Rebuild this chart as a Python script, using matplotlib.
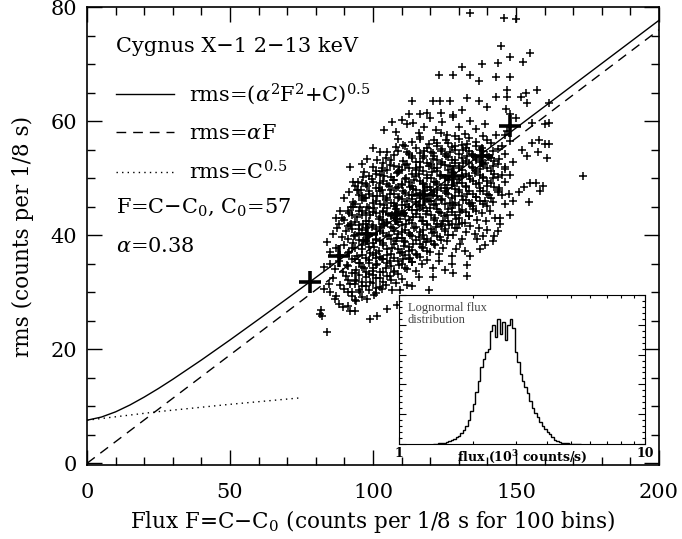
import numpy as np
import matplotlib
matplotlib.use("Agg")
import matplotlib.pyplot as plt
from matplotlib.ticker import MultipleLocator, FixedLocator, NullFormatter

plt.rcParams['font.family'] = ['DejaVu Serif']
plt.rcParams['mathtext.fontset'] = 'dejavuserif'

# model curves (alpha=0.38, C0=57)
model_flux = [0, 5, 10, 15, 20, 25, 30, 40, 50, 60, 70, 80, 90, 100, 120, 140, 160, 180, 200]
model_rms = [7.55, 8.10, 9.02, 10.22, 11.61, 13.12, 14.73, 18.11, 21.63, 25.24, 28.89,
             32.58, 36.29, 40.01, 47.50, 55.02, 62.56, 70.11, 77.67]
linear_flux = [0, 200]
linear_rms = [0, 76]
poisson_flux = [0, 25, 50, 75]
poisson_rms = [7.55, 9.06, 10.34, 11.49]

# binned averages (big crosses)
bin_flux = [78, 88, 98, 108, 118, 128, 138, 148]
bin_rms = [31.8, 36.3, 40.2, 43.7, 47.0, 50.3, 53.8, 59.1]

# individual 1/8 s segments (flux, rms), outer parts of the cloud
cloud = [
    (84.0, 23.0), (82.0, 25.9), (81.8, 26.9), (81.5, 26.2), (89.5, 27.4), (92.0, 26.7), (93.7, 26.7),
    (101.4, 25.9), (105.0, 27.0), (99.0, 25.3), (108.5, 27.8), (86.7, 28.8), (88.0, 28.0), (98.0, 28.8),
    (94.0, 28.4),
    (83.0, 30.6), (85.0, 30.0), (87.0, 29.3), (90.0, 30.6), (92.7, 30.0), (95.5, 30.0), (100.5, 29.5),
    (103.0, 30.6), (106.6, 30.4), (109.4, 30.4), (84.5, 31.5), (86.0, 32.4), (88.5, 31.2), (90.5, 32.8),
    (92.0, 31.5), (94.0, 32.2), (96.0, 31.0), (97.5, 32.6), (99.0, 31.8), (101.0, 30.8), (102.5, 32.4),
    (104.5, 31.3), (106.0, 32.9), (108.0, 31.6), (110.0, 32.3), (112.0, 31.2), (113.6, 31.0), (116.0, 32.6),
    (119.6, 30.4), (121.0, 32.7), (93.7, 32.0), (100.0, 33.0),
    (83.0, 34.5), (85.0, 35.0), (86.7, 34.0), (88.0, 35.5), (89.5, 33.6), (91.0, 34.8), (92.5, 35.8),
    (94.0, 33.9), (95.5, 35.2), (97.0, 34.3), (98.5, 35.7), (100.0, 33.8), (101.5, 34.9), (103.0, 35.9),
    (104.5, 34.2), (106.0, 35.4), (107.5, 33.5), (109.0, 34.7), (110.5, 35.8), (112.0, 34.1), (113.5, 35.3),
    (115.0, 33.7), (117.0, 34.9), (119.0, 35.6), (121.0, 34.3), (123.0, 35.5), (125.0, 33.9), (127.6, 35.0),
    (128.0, 33.4), (133.0, 32.8), (133.0, 34.8),
    (84.0, 38.8), (85.0, 37.0), (87.0, 37.8), (88.5, 36.6), (90.0, 38.2), (91.5, 37.1), (93.0, 38.7),
    (94.5, 36.4), (96.0, 37.6), (97.5, 38.9), (99.0, 36.8), (100.5, 38.0), (102.0, 37.2), (103.5, 38.6),
    (105.0, 36.5), (106.5, 37.7), (108.0, 38.9), (109.5, 36.9), (111.0, 38.1), (112.5, 37.3), (114.0, 38.5),
    (115.5, 36.6), (117.0, 37.9), (118.5, 38.8), (120.0, 37.0), (121.5, 38.3), (123.0, 36.7), (124.5, 37.8),
    (126.0, 38.9), (127.5, 36.4), (129.0, 37.6), (130.5, 38.5), (132.0, 37.2), (134.0, 36.3), (136.4, 39.3),
    (137.4, 37.6), (139.0, 38.2), (96.5, 39.0), (101.0, 36.0), (113.0, 36.0),
    (86.0, 40.2), (87.5, 41.3), (89.0, 39.6), (90.5, 40.8), (92.0, 41.7), (93.5, 39.9), (95.0, 41.0),
    (96.5, 42.0), (98.0, 40.4), (99.5, 41.5), (101.0, 39.4), (102.5, 40.7), (104.0, 41.8), (105.5, 40.0),
    (107.0, 41.2), (108.5, 39.5), (110.0, 40.6), (111.5, 41.9), (113.0, 40.1), (114.5, 41.3), (116.0, 39.7),
    (117.5, 40.9), (119.0, 42.0), (120.5, 40.3), (122.0, 41.4), (123.5, 39.6), (125.0, 40.8), (126.5, 41.8),
    (128.0, 40.0), (129.5, 41.2), (131.0, 39.4), (132.5, 40.5), (134.0, 41.6), (135.5, 40.2), (137.0, 41.3),
    (138.5, 39.8), (140.0, 40.9), (142.0, 39.0), (142.3, 39.8), (143.7, 40.7), (144.4, 42.0), (92.3, 42.0),
    (97.0, 39.2), (103.0, 42.0), (111.0, 39.0), (118.0, 39.3), (124.0, 42.0), (130.0, 42.0), (88.0, 42.0),
    (87.0, 43.0), (88.5, 44.3), (90.0, 42.6), (91.5, 43.8), (93.0, 44.9), (94.5, 43.1), (96.0, 44.2),
    (97.5, 42.4), (99.0, 43.6), (100.5, 44.7), (102.0, 42.9), (103.5, 44.0), (105.0, 42.3), (106.5, 43.5),
    (108.0, 44.6), (109.5, 42.8), (111.0, 43.9), (112.5, 45.0), (114.0, 43.2), (115.5, 44.4), (117.0, 42.5),
    (118.5, 43.7), (120.0, 44.8), (121.5, 43.0), (123.0, 44.1), (124.5, 42.4), (126.0, 43.6), (127.5, 44.7),
    (129.0, 42.9), (130.5, 44.0), (132.0, 42.2), (133.5, 43.4), (135.0, 44.5), (136.5, 42.7), (138.0, 43.9),
    (139.5, 42.5), (141.0, 44.2), (142.5, 43.0), (144.4, 43.0), (146.0, 45.4), (148.0, 43.5), (92.3, 45.0),
    (95.5, 45.0), (89.0, 43.0), (98.0, 45.0), (104.0, 45.2), (110.0, 45.3), (116.0, 45.1), (122.0, 45.4),
    (128.0, 45.2), (134.0, 45.4), (140.0, 45.1),
    (90.0, 46.5), (91.5, 47.6), (93.0, 45.8), (94.8, 48.0), (96.0, 46.9), (97.0, 46.6), (98.5, 47.8),
    (100.0, 45.7), (101.5, 46.8), (103.0, 47.9), (104.5, 46.1), (106.0, 47.2), (107.5, 45.6), (109.0, 46.7),
    (110.5, 47.8), (112.0, 46.0), (113.5, 47.1), (115.0, 45.5), (116.5, 46.6), (118.0, 47.7), (119.5, 45.9),
    (121.0, 47.0), (122.5, 48.0), (124.0, 46.3), (125.5, 47.4), (127.0, 45.7), (128.5, 46.8), (130.0, 47.9),
    (131.5, 46.1), (133.0, 47.2), (134.5, 45.6), (136.0, 46.7), (137.5, 47.8), (139.0, 46.0), (140.5, 47.1),
    (142.0, 45.8), (144.0, 48.0), (145.0, 47.0), (147.6, 47.3), (149.0, 46.0), (151.0, 47.5), (154.6, 45.8),
    (158.4, 47.7), (94.4, 47.9), (95.8, 48.0), (102.0, 48.2), (108.0, 48.3), (114.0, 48.1), (120.0, 48.4),
    (126.0, 48.2),
    (93.0, 49.3), (94.8, 49.4), (96.5, 50.2), (98.0, 48.7), (99.5, 49.8), (101.0, 50.8), (102.5, 49.1),
    (104.0, 50.3), (105.5, 48.6), (107.0, 49.7), (108.5, 50.9), (110.0, 49.0), (111.5, 50.1), (113.0, 48.5),
    (114.5, 49.6), (116.0, 50.7), (117.5, 48.9), (119.0, 50.0), (120.5, 51.0), (122.0, 49.3), (123.5, 50.4),
    (125.0, 48.8), (126.5, 49.9), (128.0, 50.9), (129.5, 49.2), (131.0, 50.4), (132.5, 48.7), (134.0, 49.8),
    (135.5, 50.9), (137.0, 49.1), (138.5, 50.2), (140.0, 48.6), (142.0, 50.0), (145.0, 50.5), (148.0, 50.5),
    (144.0, 48.3), (152.8, 48.4), (155.0, 49.1), (157.0, 49.1), (159.4, 48.6), (173.4, 50.4), (97.0, 51.0),
    (103.0, 51.2), (109.0, 51.3), (115.0, 51.5),
    (96.0, 52.5), (98.0, 53.4), (100.0, 52.0), (101.5, 53.2), (103.0, 51.8), (104.5, 53.5), (106.0, 52.3),
    (107.5, 54.0), (109.0, 51.9), (110.5, 53.0), (112.0, 52.4), (113.5, 53.8), (115.0, 51.7), (116.5, 52.9),
    (118.0, 53.9), (119.5, 52.2), (121.0, 53.3), (122.5, 51.8), (124.0, 52.8), (125.5, 53.9), (127.0, 52.1),
    (128.5, 53.2), (130.0, 51.7), (131.5, 52.7), (133.0, 53.8), (134.5, 52.0), (136.0, 53.1), (137.5, 51.6),
    (139.0, 52.6), (140.5, 53.7), (142.0, 52.2), (144.0, 53.3), (146.0, 51.9), (149.0, 52.8), (153.8, 53.8),
    (157.7, 54.5), (161.0, 53.6), (92.0, 52.0),
    (100.0, 55.2), (102.4, 54.5), (105.0, 54.5), (108.0, 55.5), (108.7, 56.8), (110.5, 55.8), (112.0, 54.6),
    (113.5, 56.4), (115.0, 55.3), (116.5, 56.9), (118.0, 54.8), (119.5, 55.9), (121.0, 54.4), (122.5, 56.2),
    (124.0, 55.1), (125.5, 56.7), (127.0, 54.6), (128.5, 55.7), (130.0, 56.8), (131.5, 54.9), (133.0, 55.9),
    (134.5, 54.3), (136.0, 56.3), (138.0, 55.2), (140.0, 56.6), (142.0, 54.8), (145.0, 55.6), (148.0, 56.5),
    (155.6, 56.2), (158.0, 56.6), (160.0, 56.0), (152.0, 55.0), (161.5, 55.9),
    (104.0, 58.5), (106.5, 59.8), (108.0, 58.0), (110.0, 60.2), (112.0, 59.4), (114.0, 59.6), (116.0, 57.9),
    (118.0, 59.0), (120.0, 60.5), (122.0, 58.4), (124.0, 59.8), (126.0, 57.6), (128.0, 60.8), (130.0, 58.9),
    (132.0, 57.8), (134.0, 60.0), (136.0, 58.6), (139.0, 59.5), (143.0, 57.5), (147.0, 58.2), (150.0, 60.5),
    (155.6, 59.6), (160.0, 59.4), (161.5, 59.6), (112.6, 61.3), (116.4, 61.3),
    (119.0, 61.5), (123.8, 61.5), (128.0, 61.0), (113.6, 63.6), (121.0, 63.6), (123.4, 63.6), (127.0, 63.6),
    (133.0, 64.0), (143.0, 64.3), (147.0, 64.3), (146.5, 62.2), (148.0, 61.3), (151.8, 64.3), (153.5, 65.0),
    (154.0, 63.2), (161.5, 63.2), (157.3, 65.5), (140.0, 62.5), (137.0, 63.5), (131.0, 62.0),
    (123.0, 68.0), (128.0, 68.0), (134.0, 68.0), (137.0, 67.0), (131.0, 69.5), (138.0, 70.0), (143.0, 67.7),
    (148.0, 67.7), (147.0, 65.5), (143.6, 70.1), (152.6, 70.3), (148.0, 71.3), (155.0, 72.0), (144.8, 73.1),
    (134.0, 79.0), (145.8, 78.0), (150.0, 77.9),
]

# dense core of the cloud, one column of rms values per flux value
core_columns = [
    (91.3, [27.5, 30.1, 32.2, 34.6, 36.9, 39.3, 41.6, 44.2]),
    (92.5, [29.3, 33.4, 37.8, 41.0, 43.6]),
    (93.8, [28.6, 31.4, 33.3, 35.9, 37.7, 40.1, 42.3, 45.5, 48.6]),
    (95.0, [30.4, 33.0, 35.1, 39.2, 41.7, 44.3, 47.1]),
    (96.2, [29.2, 31.8, 34.4, 36.6, 38.3, 40.9, 43.5, 46.2, 49.1]),
    (97.5, [31.1, 33.6, 36.0, 38.9, 41.3, 43.9, 46.5, 48.9]),
    (98.7, [30.3, 33.1, 35.2, 37.9, 39.8, 42.4, 44.7, 47.3, 50.4]),
    (100.0, [31.6, 34.3, 36.5, 38.7, 41.8, 44.1, 46.9, 49.4]),
    (101.1, [29.8, 32.5, 34.7, 36.9, 39.2, 41.1, 43.8, 45.9, 48.2, 51.3]),
    (102.4, [30.9, 33.5, 36.2, 38.9, 41.4, 43.2, 45.4, 47.7, 50.6]),
    (103.6, [31.7, 33.6, 35.8, 38.3, 40.4, 42.6, 44.3, 46.8, 49.5, 52.6]),
    (104.9, [32.8, 35.1, 37.5, 39.9, 42.1, 44.8, 46.6, 49.0, 51.5]),
    (106.2, [32.1, 34.6, 36.7, 39.4, 41.5, 43.3, 45.6, 47.9, 50.2, 53.1]),
    (107.4, [33.7, 36.0, 38.4, 40.8, 43.0, 45.1, 47.3, 49.6, 52.2]),
    (108.7, [33.2, 35.4, 37.6, 40.2, 42.3, 44.1, 46.5, 48.4, 51.1, 54.7]),
    (110.0, [34.9, 37.1, 39.5, 41.7, 44.2, 46.3, 48.8, 51.4]),
    (111.3, [34.3, 36.5, 38.8, 40.9, 43.3, 45.2, 47.4, 49.9, 52.3, 55.6]),
    (112.6, [35.9, 38.0, 40.3, 42.6, 44.9, 47.1, 49.3, 51.8, 54.2]),
    (113.8, [35.3, 37.4, 39.9, 42.2, 44.4, 46.3, 48.7, 50.8, 53.6]),
    (115.1, [36.7, 39.1, 41.4, 43.7, 45.8, 48.0, 50.4, 52.8]),
    (116.4, [36.2, 38.5, 40.6, 43.1, 45.3, 47.4, 49.5, 51.9, 54.4, 57.2]),
    (117.6, [37.8, 40.0, 42.4, 44.8, 47.0, 49.2, 51.3, 53.5]),
    (118.9, [37.3, 39.4, 41.8, 44.3, 46.4, 48.5, 50.6, 52.7, 55.3]),
    (120.1, [38.9, 41.1, 43.5, 45.9, 48.0, 50.1, 52.4, 54.6]),
    (121.3, [38.4, 40.5, 42.7, 45.3, 47.6, 49.4, 51.7, 53.9, 56.6]),
    (122.5, [39.9, 42.0, 44.5, 46.8, 49.0, 51.2, 53.2, 55.7]),
    (123.8, [39.2, 41.6, 43.8, 46.2, 48.3, 50.6, 52.4, 54.8, 57.9]),
    (125.0, [41.0, 43.3, 45.4, 47.8, 50.1, 52.3, 54.3]),
    (126.2, [40.1, 42.5, 44.6, 47.2, 49.6, 51.5, 53.7, 56.1]),
    (127.5, [42.0, 44.1, 46.5, 48.8, 51.0, 53.1, 55.4]),
    (128.7, [41.3, 43.6, 45.7, 48.1, 50.3, 52.6, 54.9, 57.4]),
    (130.0, [43.0, 45.3, 47.6, 49.9, 52.1, 54.3]),
    (131.2, [42.2, 44.4, 46.9, 49.2, 51.4, 53.5, 55.8]),
    (132.4, [44.0, 46.2, 48.5, 50.8, 53.0, 55.2]),
    (133.7, [43.4, 45.6, 47.8, 50.3, 52.6, 54.7, 57.1]),
    (134.9, [45.1, 47.3, 49.5, 51.8, 54.1]),
    (136.1, [44.3, 46.7, 48.9, 51.2, 53.6, 55.7]),
    (137.3, [46.0, 48.3, 50.6, 52.9, 55.0]),
    (138.6, [45.5, 47.8, 50.1, 52.4, 54.8, 57.3]),
    (139.9, [47.2, 49.5, 51.8, 54.0]),
    (141.2, [46.6, 49.1, 51.3, 53.5, 56.2]),
    (142.4, [48.4, 50.7, 53.0]),
    (143.7, [47.5, 50.2, 52.5, 55.1]),
    (146.3, [49.3, 51.6, 54.3, 57.6]),
]

cloud_flux = [p[0] for p in cloud]
cloud_rms = [p[1] for p in cloud]
for f, rs in core_columns:
    cloud_flux += [f] * len(rs)
    cloud_rms += rs

# inset: lognormal flux histogram (log10 bins of width 0.01 starting at 0.14)
hist_log_start = 0.14
hist_log_step = 0.01
hist_counts = [1, 1, 2, 2, 4, 6, 9, 12, 17, 22,
               28, 37, 47, 60, 80, 110, 135, 175, 210, 260,
               285, 310, 320, 380, 400, 360, 420, 370, 410, 350,
               400, 420, 390, 310, 275, 235, 210, 190, 170, 145,
               120, 105, 90, 75, 60, 50, 40, 32, 22, 15,
               10, 6, 4, 3, 2, 1, 1, 1, 0, 0]

fig = plt.figure(figsize=(6.82, 5.39), dpi=100)
ax = fig.add_axes([0.1276, 0.1373, 0.8387, 0.8497])

ax.plot(cloud_flux, cloud_rms, '+', color='black', ms=5.8, mew=1.1, zorder=2)
ax.plot(bin_flux, bin_rms, '+', color='black', ms=16, mew=2.6, zorder=4)
l1, = ax.plot(model_flux, model_rms, '-', color='black', lw=1.0, zorder=3,
              label=r'rms=($\alpha^2$F$^2$+C)$^{0.5}$')
l2, = ax.plot(linear_flux, linear_rms, color='black', lw=1.0, dashes=(7, 5), zorder=3,
              label=r'rms=$\alpha$F')
l3, = ax.plot(poisson_flux, poisson_rms, color='black', lw=1.0, dashes=(1, 3), zorder=3,
              label=r'rms=C$^{0.5}$')

ax.set_xlim(0, 200)
ax.set_ylim(-0.3, 80)
ax.xaxis.set_major_locator(MultipleLocator(50))
ax.xaxis.set_minor_locator(MultipleLocator(10))
ax.yaxis.set_major_locator(MultipleLocator(20))
ax.yaxis.set_minor_locator(MultipleLocator(5))
ax.tick_params(which='both', direction='in', top=True, right=True, width=1)
ax.tick_params(which='major', length=11, labelsize=15)
ax.tick_params(which='minor', length=6)
ax.tick_params(axis='x', pad=13)
ax.tick_params(axis='y', pad=7)
for s in ax.spines.values():
    s.set_linewidth(1.2)

ax.set_xlabel(r'Flux F=C$-$C$_0$ (counts per 1/8 s for 100 bins)', fontsize=15.5, labelpad=4)
ax.set_ylabel('rms (counts per 1/8 s)', fontsize=15.5, labelpad=12)

ax.text(0.05, 0.913, 'Cygnus X\u22121 2\u221213 keV', transform=ax.transAxes,
        fontsize=15, va='center', ha='left')
ax.legend(handles=[l1, l2, l3], loc='upper left', bbox_to_anchor=(0.05, 0.838),
          frameon=False, fontsize=15, handlelength=2.8, handletextpad=0.7,
          labelspacing=0.82, borderaxespad=0, borderpad=0)
ax.text(0.05, 0.563, r'F=C$-$C$_0$, C$_0$=57', transform=ax.transAxes,
        fontsize=15, va='center', ha='left')
ax.text(0.05, 0.476, r'$\alpha$=0.38', transform=ax.transAxes,
        fontsize=15, va='center', ha='left')

# inset histogram
ax_in = fig.add_axes([0.585, 0.1763, 0.3607, 0.2764])
ax_in.set_facecolor('white')
edges = 10 ** (hist_log_start + hist_log_step * np.arange(len(hist_counts) + 1))
ax_in.stairs(hist_counts, edges, color='black', lw=1.0)
ax_in.set_xscale('log')
ax_in.set_xlim(1, 10)
ax_in.set_ylim(0, 500)
ax_in.xaxis.set_major_locator(FixedLocator([1, 10]))
ax_in.xaxis.set_minor_locator(FixedLocator([2, 3, 4, 5, 6, 7, 8, 9]))
ax_in.xaxis.set_minor_formatter(NullFormatter())
ax_in.set_xticklabels(['1', '10'], fontweight='bold', fontsize=9)
ax_in.yaxis.set_major_locator(MultipleLocator(100))
ax_in.yaxis.set_minor_locator(MultipleLocator(20))
ax_in.set_yticklabels([])
ax_in.tick_params(which='both', direction='in', top=True, right=True, width=0.8, pad=2)
ax_in.tick_params(which='major', length=5)
ax_in.tick_params(which='minor', length=2.5)
ax_in.set_xlabel(r'flux (10$^{\mathbf{3}}$ counts/s)', fontsize=9, fontweight='bold')
ax_in.xaxis.set_label_coords(0.5, -0.03)
ax_in.text(0.035, 0.95, 'Lognormal flux\ndistribution', transform=ax_in.transAxes,
           fontsize=9, family='Liberation Serif', color='#444444', va='top', ha='left',
           linespacing=1.0)

fig.savefig('out.png', dpi=100)
